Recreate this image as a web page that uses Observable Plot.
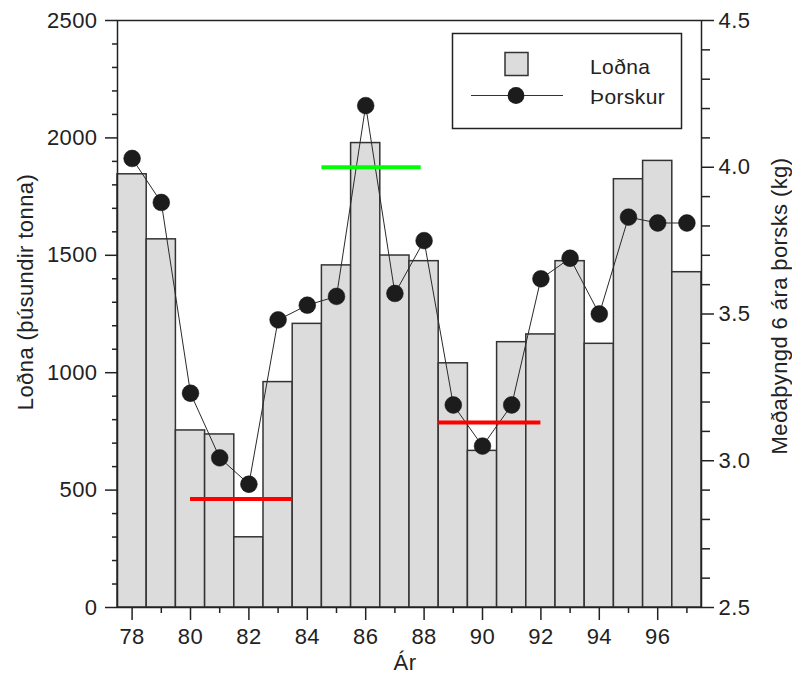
<!DOCTYPE html>
<html>
<head>
<meta charset="utf-8">
<script src="https://cdn.jsdelivr.net/npm/d3@7"></script>
<script src="https://cdn.jsdelivr.net/npm/@observablehq/plot@0.6"></script>
<style>
  html, body { margin: 0; padding: 0; background: #fff; }
  #chart { width: 792px; height: 676px; }
</style>
</head>
<body>
<div id="chart"></div>
<script>
// ---- data ----
const years = [78, 79, 80, 81, 82, 83, 84, 85, 86, 87, 88, 89, 90, 91, 92, 93, 94, 95, 96, 97];
const lodna = [1845, 1568, 754, 737, 299, 960, 1208, 1457, 1978, 1499, 1475, 1040, 667, 1130, 1163, 1475, 1123, 1824, 1902, 1428];
const thorskur = [4.03, 3.88, 3.23, 3.01, 2.92, 3.48, 3.53, 3.56, 4.21, 3.57, 3.75, 3.19, 3.05, 3.19, 3.62, 3.69, 3.50, 3.83, 3.81, 3.81];

// period averages of cod weight (kg)
const refStart = [80, 88.5, 84.5];
const refEnd = [83.5, 92, 87.9];
const refValue = [2.87, 3.13, 4.0];
const refKind = ["low", "low", "high"];

// tick labels
const leftTicks = [0, 500, 1000, 1500, 2000, 2500];
const leftMinorTicks = [100, 200, 300, 400, 600, 700, 800, 900, 1100, 1200, 1300, 1400, 1600, 1700, 1800, 1900, 2100, 2200, 2300, 2400];
const rightTicks = [2.5, 3.0, 3.5, 4.0, 4.5];
const rightMinorTicks = [2.6, 2.7, 2.8, 2.9, 3.1, 3.2, 3.3, 3.4, 3.6, 3.7, 3.8, 3.9, 4.1, 4.2, 4.3, 4.4];
const xTicks = [78, 80, 82, 84, 86, 88, 90, 92, 94, 96];
const xMinorTicks = [79, 81, 83, 85, 87, 89, 91, 93, 95, 97];

const leftLabel = "Loðna (þúsundir tonna)";
const rightLabel = "Meðaþyngd 6 ára þorsks (kg)";
const xLabel = "Ár";
const legendLabels = ["Loðna", "Þorskur"];

// ---- build ----
const rightDomain = [2.5, 4.5];
const leftDomain = [0, 2500];
const toLeft = v => (v - rightDomain[0]) / (rightDomain[1] - rightDomain[0]) * (leftDomain[1] - leftDomain[0]) + leftDomain[0];

const data = years.map((y, i) => ({year: y, lodna: lodna[i], cod: thorskur[i]}));
const refs = refStart.map((s, i) => ({start: s, end: refEnd[i], value: refValue[i], kind: refKind[i]}));
const refColor = {low: "#ff0000", high: "#00ff00"};

const ink = "#222";
const W = 792, H = 676;
const mL = 117, mR = 91, mT = 20, mB = 69;
const font = "'Liberation Sans', Arial, sans-serif";

const chart = Plot.plot({
  width: W,
  height: H,
  marginLeft: mL,
  marginRight: mR,
  marginTop: mT,
  marginBottom: mB,
  x: {domain: [77.5, 97.5]},
  y: {domain: leftDomain},
  style: {fontFamily: font, fontSize: "22px", color: ink, background: "#fff", overflow: "visible", letterSpacing: "0.4px"},
  marks: [
    Plot.rect(data, {x1: d => d.year - 0.5, x2: d => d.year + 0.5, y1: 0, y2: "lodna", fill: "#dcdcdc", stroke: "#333", strokeWidth: 1.5}),
    Plot.line(data, {x: "year", y: d => toLeft(d.cod), stroke: "#2a2a2a", strokeWidth: 1}),
    Plot.ruleY(refs, {x1: "start", x2: "end", y: d => toLeft(d.value), stroke: d => refColor[d.kind], strokeWidth: 4}),
    Plot.dot(data, {x: "year", y: d => toLeft(d.cod), r: 8.4, fill: "#1c1c1c", stroke: "#111", strokeWidth: 0.5}),
    Plot.frame({stroke: ink, strokeWidth: 1.5}),
    // left axis
    Plot.axisY(leftTicks, {anchor: "left", tickSize: 12, tickPadding: 8, strokeWidth: 1.5, label: null, tickFormat: d => String(d)}),
    Plot.axisY(leftMinorTicks, {anchor: "left", tickSize: 5, strokeWidth: 1.5, label: null, tickFormat: () => ""}),
    // right axis
    Plot.axisY(rightTicks.map(toLeft), {anchor: "right", tickSize: 12, tickPadding: 5, strokeWidth: 1.5, label: null,
      tickFormat: d => rightTicks[rightTicks.map(toLeft).indexOf(d)].toFixed(1)}),
    Plot.axisY(rightMinorTicks.map(toLeft), {anchor: "right", tickSize: 8, strokeWidth: 1.5, label: null, tickFormat: () => ""}),
    // bottom axis
    Plot.axisX(xTicks, {anchor: "bottom", tickSize: 13, tickPadding: 8, strokeWidth: 1.5, label: null, tickFormat: d => String(d)}),
    Plot.axisX(xMinorTicks, {anchor: "bottom", tickSize: 6, strokeWidth: 1.5, label: null, tickFormat: () => ""})
  ]
});

document.getElementById("chart").appendChild(chart);

// ---- axis titles and legend ----
const svg = d3.select(chart);

svg.append("text")
  .attr("transform", "translate(33,292) rotate(-90)")
  .attr("text-anchor", "middle")
  .attr("font-family", font).attr("font-size", 22).attr("fill", ink)
  .text(leftLabel);

svg.append("text")
  .attr("transform", "translate(787,306) rotate(-90)")
  .attr("text-anchor", "middle")
  .attr("font-family", font).attr("font-size", 22).attr("fill", ink)
  .text(rightLabel);

svg.append("text")
  .attr("x", 405)
  .attr("y", 670)
  .attr("text-anchor", "middle")
  .attr("font-family", font).attr("font-size", 22).attr("fill", ink)
  .text(xLabel);

const lg = svg.append("g");
lg.append("rect").attr("x", 452.5).attr("y", 33.5).attr("width", 229).attr("height", 95)
  .attr("fill", "#fff").attr("stroke", ink).attr("stroke-width", 1.5);
lg.append("rect").attr("x", 505).attr("y", 52.5).attr("width", 23).attr("height", 23)
  .attr("fill", "#dcdcdc").attr("stroke", "#333").attr("stroke-width", 1.5);
lg.append("line").attr("x1", 471).attr("x2", 563).attr("y1", 95.5).attr("y2", 95.5)
  .attr("stroke", "#333").attr("stroke-width", 1);
lg.append("circle").attr("cx", 516).attr("cy", 95.5).attr("r", 8.4).attr("fill", "#1c1c1c");
lg.append("text").attr("x", 590).attr("y", 74).attr("text-anchor", "start")
  .attr("font-family", font).attr("font-size", 21).attr("fill", ink).text(legendLabels[0]);
lg.append("text").attr("x", 590).attr("y", 104).attr("text-anchor", "start")
  .attr("font-family", font).attr("font-size", 21).attr("fill", ink).text(legendLabels[1]);
</script>
</body>
</html>
